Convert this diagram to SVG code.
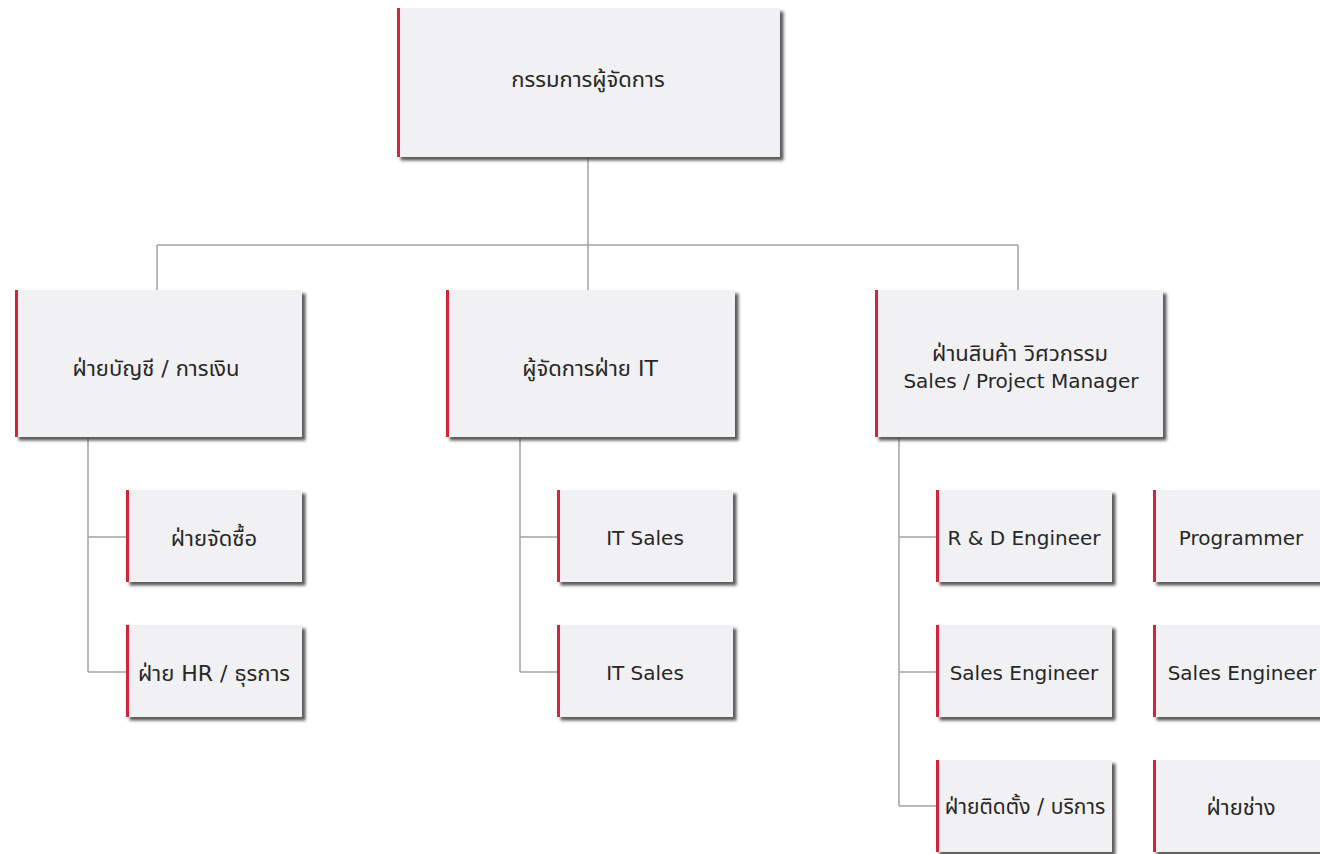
<svg xmlns="http://www.w3.org/2000/svg" width="1320" height="854" viewBox="0 0 1320 854">
  <defs>
    <filter id="sh" x="-5%" y="-5%" width="115%" height="120%">
      <feDropShadow dx="3.5" dy="3.5" stdDeviation="1.5" flood-color="#3c3c3c" flood-opacity="0.85"/>
    </filter>
    <style>
      .box { fill: #f1f1f3; filter: url(#sh); }
      .bar { fill: #d3243c; }
      .lbl { font-family: "DejaVu Sans", "Noto Sans Thai", "Noto Sans", sans-serif; font-size: 20px; fill: #272727; text-anchor: middle; }
      .th { font-size: 22px; }
      .con { fill: none; stroke: #a3a3a3; stroke-width: 1.5; }
    </style>
  </defs>
  <rect width="1320" height="854" fill="#ffffff"/>

  <g id="connectors">
    <path class="con" d="M588 157 V245 M157 245 H1018 M157 245 V290 M588 245 V290 M1018 245 V290"/>
    <path class="con" d="M88 437 V672 M88 537 H126 M88 672 H126"/>
    <path class="con" d="M520 437 V672 M520 537 H557 M520 672 H557"/>
    <path class="con" d="M899 437 V806 M899 537 H936 M899 672 H936 M899 806 H936"/>
  </g>

  <g id="n-md">
    <rect class="box" x="397" y="8" width="383" height="149"/>
    <rect class="bar" x="397" y="8" width="3" height="149"/>
    <text class="lbl th" x="588" y="87">กรรมการผู้จัดการ</text>
  </g>

  <g id="n-acc">
    <rect class="box" x="15" y="290" width="287" height="147"/>
    <rect class="bar" x="15" y="290" width="3" height="147"/>
    <text class="lbl th" x="156" y="376">ฝ่ายบัญชี / การเงิน</text>
  </g>
  <g id="n-itm">
    <rect class="box" x="446" y="290" width="289" height="147"/>
    <rect class="bar" x="446" y="290" width="3" height="147"/>
    <text class="lbl th" x="590" y="376">ผู้จัดการฝ่าย IT</text>
  </g>
  <g id="n-spm">
    <rect class="box" x="875" y="290" width="288" height="147"/>
    <rect class="bar" x="875" y="290" width="3" height="147"/>
    <text class="lbl th" x="1020" y="361">ฝ่านสินค้า วิศวกรรม</text>
    <text class="lbl" x="1021" y="388">Sales / Project Manager</text>
  </g>

  <g id="n-purchase">
    <rect class="box" x="126" y="490" width="176" height="92"/>
    <rect class="bar" x="126" y="490" width="3" height="92"/>
    <text class="lbl th" x="214" y="546">ฝ่ายจัดซื้อ</text>
  </g>
  <g id="n-hr">
    <rect class="box" x="126" y="625" width="176" height="92"/>
    <rect class="bar" x="126" y="625" width="3" height="92"/>
    <text class="lbl th" x="214" y="681">ฝ่าย HR / ธุรการ</text>
  </g>

  <g id="n-its1">
    <rect class="box" x="557" y="490" width="176" height="92"/>
    <rect class="bar" x="557" y="490" width="3" height="92"/>
    <text class="lbl" x="645" y="545">IT Sales</text>
  </g>
  <g id="n-its2">
    <rect class="box" x="557" y="625" width="176" height="92"/>
    <rect class="bar" x="557" y="625" width="3" height="92"/>
    <text class="lbl" x="645" y="680">IT Sales</text>
  </g>

  <g id="n-rd">
    <rect class="box" x="936" y="490" width="176" height="92"/>
    <rect class="bar" x="936" y="490" width="3" height="92"/>
    <text class="lbl" x="1024" y="545">R &amp; D Engineer</text>
  </g>
  <g id="n-se1">
    <rect class="box" x="936" y="625" width="176" height="92"/>
    <rect class="bar" x="936" y="625" width="3" height="92"/>
    <text class="lbl" x="1024" y="680">Sales Engineer</text>
  </g>
  <g id="n-install">
    <rect class="box" x="936" y="760" width="176" height="92"/>
    <rect class="bar" x="936" y="760" width="3" height="92"/>
    <text class="lbl" x="1025" y="814" style="font-size:21px">ฝ่ายติดตั้ง / บริการ</text>
  </g>

  <g id="n-prog">
    <rect class="box" x="1153" y="490" width="176" height="92"/>
    <rect class="bar" x="1153" y="490" width="3" height="92"/>
    <text class="lbl" x="1241" y="545">Programmer</text>
  </g>
  <g id="n-se2">
    <rect class="box" x="1153" y="625" width="176" height="92"/>
    <rect class="bar" x="1153" y="625" width="3" height="92"/>
    <text class="lbl" x="1242" y="680">Sales Engineer</text>
  </g>
  <g id="n-tech">
    <rect class="box" x="1153" y="760" width="176" height="92"/>
    <rect class="bar" x="1153" y="760" width="3" height="92"/>
    <text class="lbl th" x="1241" y="815">ฝ่ายช่าง</text>
  </g>
</svg>
